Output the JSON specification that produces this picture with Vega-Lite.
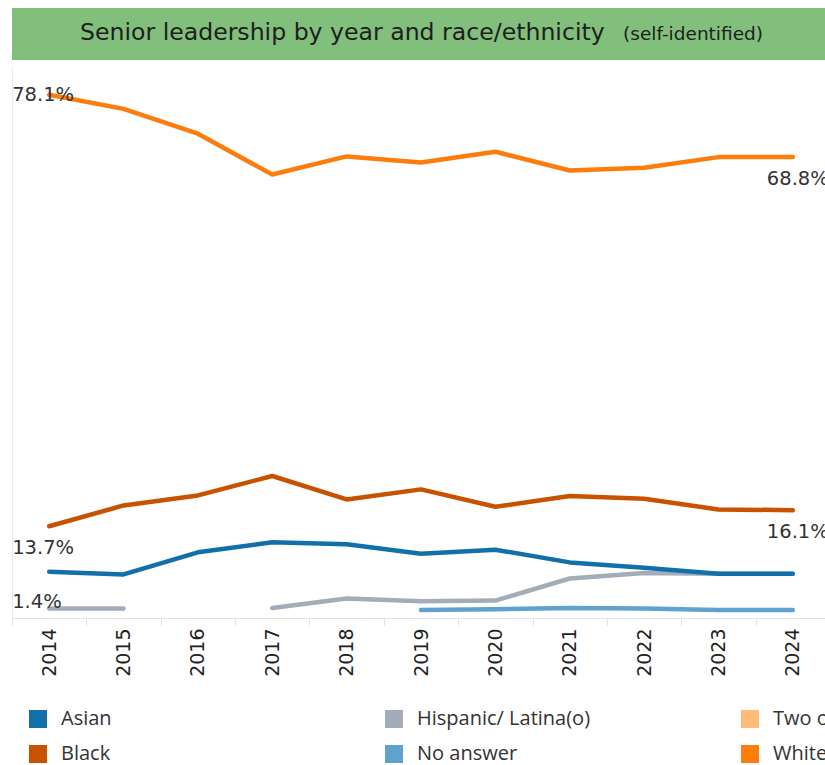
{
  "$schema": "https://vega.github.io/schema/vega-lite/v6.json",
  "padding": {"left": 3, "top": 8, "right": 0, "bottom": 0},
  "background": "white",
  "spacing": 6,
  "config": {"view": {"stroke": null}},
  "vconcat": [
    {
      "width": 813,
      "height": 52,
      "view": {"fill": "#82bf7c", "stroke": null},
      "data": {"values": [
        {"part": "main", "label": "Senior leadership by year and race/ethnicity"},
        {"part": "sub", "label": "(self-identified)"}
      ]},
      "layer": [
        {
          "transform": [{"filter": "datum.part === 'main'"}],
          "mark": {"type": "text", "align": "left", "baseline": "alphabetic", "dx": -338.5, "dy": 6, "font": "DejaVu Sans", "fontSize": 23.6, "color": "#1e1e1e"},
          "encoding": {"text": {"field": "label"}}
        },
        {
          "transform": [{"filter": "datum.part === 'sub'"}],
          "mark": {"type": "text", "align": "right", "baseline": "alphabetic", "dx": 344.5, "dy": 6, "font": "DejaVu Sans", "fontSize": 18.5, "color": "#1e1e1e"},
          "encoding": {"text": {"field": "label"}}
        }
      ]
    },
    {
      "width": 818,
      "height": 552,
      "data": {"values": [
        {"year": "2014", "group": "White", "pct": 0.781},
        {"year": "2015", "group": "White", "pct": 0.760},
        {"year": "2016", "group": "White", "pct": 0.723},
        {"year": "2017", "group": "White", "pct": 0.662},
        {"year": "2018", "group": "White", "pct": 0.689},
        {"year": "2019", "group": "White", "pct": 0.680},
        {"year": "2020", "group": "White", "pct": 0.696},
        {"year": "2021", "group": "White", "pct": 0.668},
        {"year": "2022", "group": "White", "pct": 0.672},
        {"year": "2023", "group": "White", "pct": 0.688},
        {"year": "2024", "group": "White", "pct": 0.688},
        {"year": "2014", "group": "Black", "pct": 0.137},
        {"year": "2015", "group": "Black", "pct": 0.168},
        {"year": "2016", "group": "Black", "pct": 0.183},
        {"year": "2017", "group": "Black", "pct": 0.212},
        {"year": "2018", "group": "Black", "pct": 0.177},
        {"year": "2019", "group": "Black", "pct": 0.192},
        {"year": "2020", "group": "Black", "pct": 0.166},
        {"year": "2021", "group": "Black", "pct": 0.182},
        {"year": "2022", "group": "Black", "pct": 0.178},
        {"year": "2023", "group": "Black", "pct": 0.162},
        {"year": "2024", "group": "Black", "pct": 0.161},
        {"year": "2014", "group": "Hispanic/ Latina(o)", "pct": 0.014},
        {"year": "2015", "group": "Hispanic/ Latina(o)", "pct": 0.014},
        {"year": "2016", "group": "Hispanic/ Latina(o)", "pct": null},
        {"year": "2017", "group": "Hispanic/ Latina(o)", "pct": 0.015},
        {"year": "2018", "group": "Hispanic/ Latina(o)", "pct": 0.029},
        {"year": "2019", "group": "Hispanic/ Latina(o)", "pct": 0.025},
        {"year": "2020", "group": "Hispanic/ Latina(o)", "pct": 0.026},
        {"year": "2021", "group": "Hispanic/ Latina(o)", "pct": 0.059},
        {"year": "2022", "group": "Hispanic/ Latina(o)", "pct": 0.067},
        {"year": "2023", "group": "Hispanic/ Latina(o)", "pct": 0.066},
        {"year": "2024", "group": "Hispanic/ Latina(o)", "pct": 0.066},
        {"year": "2019", "group": "No answer", "pct": 0.012},
        {"year": "2020", "group": "No answer", "pct": 0.013},
        {"year": "2021", "group": "No answer", "pct": 0.015},
        {"year": "2022", "group": "No answer", "pct": 0.014},
        {"year": "2023", "group": "No answer", "pct": 0.012},
        {"year": "2024", "group": "No answer", "pct": 0.012},
        {"year": "2014", "group": "Asian", "pct": 0.069},
        {"year": "2015", "group": "Asian", "pct": 0.065},
        {"year": "2016", "group": "Asian", "pct": 0.098},
        {"year": "2017", "group": "Asian", "pct": 0.113},
        {"year": "2018", "group": "Asian", "pct": 0.110},
        {"year": "2019", "group": "Asian", "pct": 0.096},
        {"year": "2020", "group": "Asian", "pct": 0.102},
        {"year": "2021", "group": "Asian", "pct": 0.083},
        {"year": "2022", "group": "Asian", "pct": 0.075},
        {"year": "2023", "group": "Asian", "pct": 0.066},
        {"year": "2024", "group": "Asian", "pct": 0.066}
      ]},
      "encoding": {
        "x": {
          "field": "year", "type": "ordinal",
          "scale": {"type": "band", "paddingInner": 0, "paddingOuter": 0},
          "axis": {
            "title": null, "labelAngle": -90, "tickBand": "extent",
            "tickSize": 8, "tickColor": "#e4e4e4", "domainColor": "#e4e4e4",
            "labelPadding": 2, "labelFont": "DejaVu Sans", "labelFontSize": 19, "labelColor": "#222222"
          }
        },
        "y": {
          "field": "pct", "type": "quantitative",
          "scale": {"domain": [0, 0.824], "nice": false, "zero": true},
          "axis": {"title": null, "labels": false, "ticks": false, "grid": false, "domainColor": "#ececec"}
        }
      },
      "layer": [
        {
          "mark": {"type": "line", "strokeWidth": 4.5, "strokeCap": "round", "strokeJoin": "round"},
          "encoding": {
            "color": {
              "field": "group", "type": "nominal",
              "scale": {
                "domain": ["Asian", "Hispanic/ Latina(o)", "Two or more races", "Black", "No answer", "White"],
                "range": ["#1170aa", "#a3acb9", "#ffbc79", "#c85200", "#5fa2ce", "#fc7d0b"]
              },
              "legend": {
                "orient": "none", "legendX": 16, "legendY": 701, "padding": 0,
                "direction": "horizontal", "columns": 3, "gridAlign": "all",
                "columnPadding": 149, "rowPadding": 15, "title": null,
                "symbolType": "square", "symbolSize": 324, "symbolStrokeWidth": 0,
                "labelFont": "Open Sans", "labelFontSize": 20, "labelColor": "#333333", "labelOffset": 13, "labelLimit": 400,
                "encode": {"symbols": {"update": {"fill": {"scale": "color", "field": "value"}, "fillOpacity": {"value": 1}, "strokeWidth": {"value": 0}}}}
              }
            }
          }
        },
        {
          "transform": [{"filter": "datum.year === '2014' && datum.group === 'White'"}],
          "mark": {"type": "text", "align": "left", "baseline": "middle", "dx": -37, "dy": 0, "font": "DejaVu Sans", "fontSize": 19.5, "color": "#333333"},
          "encoding": {"text": {"field": "pct", "type": "quantitative", "format": ".1%"}}
        },
        {
          "transform": [{"filter": "datum.year === '2014' && datum.group === 'Black'"}],
          "mark": {"type": "text", "align": "left", "baseline": "middle", "dx": -37, "dy": 22, "font": "DejaVu Sans", "fontSize": 19.5, "color": "#333333"},
          "encoding": {"text": {"field": "pct", "type": "quantitative", "format": ".1%"}}
        },
        {
          "transform": [{"filter": "datum.year === '2014' && datum.group === 'Hispanic/ Latina(o)'"}],
          "mark": {"type": "text", "align": "left", "baseline": "middle", "dx": -37, "dy": -7, "font": "DejaVu Sans", "fontSize": 19.5, "color": "#333333"},
          "encoding": {"text": {"field": "pct", "type": "quantitative", "format": ".1%"}}
        },
        {
          "transform": [{"filter": "datum.year === '2024' && (datum.group === 'White' || datum.group === 'Black')"}],
          "mark": {"type": "text", "align": "left", "baseline": "middle", "dx": -26, "dy": 21.5, "font": "DejaVu Sans", "fontSize": 19.5, "color": "#333333"},
          "encoding": {"text": {"field": "pct", "type": "quantitative", "format": ".1%"}}
        }
      ]
    }
  ]
}
